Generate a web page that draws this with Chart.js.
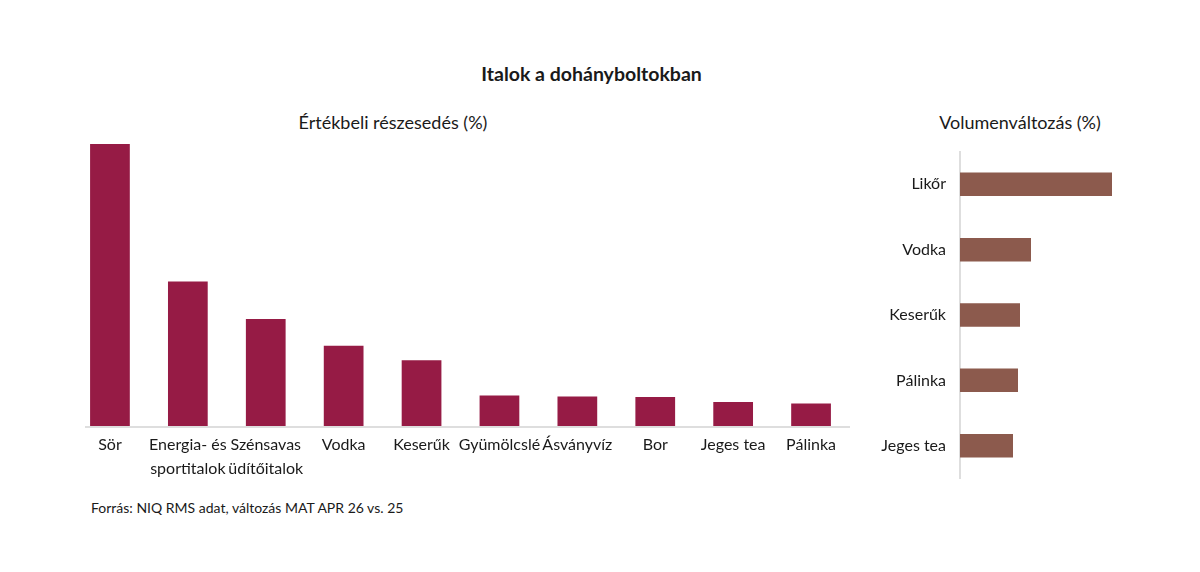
<!DOCTYPE html>
<html>
<head>
<meta charset="utf-8">
<script src="https://cdn.jsdelivr.net/npm/chart.js@4/dist/chart.umd.min.js"></script>
<style>
  html, body { margin: 0; padding: 0; background: #fff; }
  body { width: 1200px; height: 572px; position: relative; overflow: hidden; font-family: Lato, sans-serif; color: #1a1a1a; }
  .txt { position: absolute; white-space: nowrap; }
  #title { left: 0; width: 1183px; top: 62px; text-align: center; font-weight: bold; font-size: 19.5px; }
  #subLeft { left: 243px; width: 300px; top: 111px; text-align: center; font-size: 18px; }
  #subRight { left: 920px; width: 200px; top: 111px; text-align: center; font-size: 18px; }
  #source { left: 91px; top: 499px; font-size: 14px; }
  #wrapLeft { position: absolute; left: 71px; top: 144px; width: 779px; height: 352px; }
  #wrapRight { position: absolute; left: 860px; top: 128px; width: 340px; height: 374px; }
</style>
</head>
<body>
<div class="txt" id="title">Italok a dohányboltokban</div>
<div class="txt" id="subLeft">Értékbeli részesedés (%)</div>
<div class="txt" id="subRight">Volumenváltozás (%)</div>
<div class="txt" id="source">Forrás: NIQ RMS adat, változás MAT APR 26 vs. 25</div>
<div id="wrapLeft"><canvas id="chart-share"></canvas></div>
<div id="wrapRight"><canvas id="chart-volume"></canvas></div>
<script>
// value share categories (left)
const shareLabels = ['Sör', ['Energia- és', 'sportitalok'], ['Szénsavas', 'üdítőitalok'], 'Vodka', 'Keserűk',
  'Gyümölcslé', 'Ásványvíz', 'Bor', 'Jeges tea', 'Pálinka'];
const shareValues = [28.1, 14.4, 10.65, 8.0, 6.55, 3.05, 2.95, 2.9, 2.4, 2.25];

// volume change categories (right)
const volumeLabels = ['Likőr', 'Vodka', 'Keserűk', 'Pálinka', 'Jeges tea'];
const volumeValues = [15.2, 7.1, 6.0, 5.8, 5.3];

const SHARE_COLOR = '#961B45';
const VOLUME_COLOR = '#8C5A4D';
const AXIS_COLOR = '#dedede';
const LABEL_COLOR = '#1a1a1a';

Chart.defaults.font.family = 'Lato, sans-serif';
Chart.defaults.color = LABEL_COLOR;
Chart.defaults.animation = false;

// baseline under the columns, starts a bit right of the first category
const baseLine = {
  id: 'baseLine',
  afterDatasetsDraw(chart) {
    const { ctx, chartArea } = chart;
    ctx.save();
    ctx.strokeStyle = AXIS_COLOR;
    ctx.lineWidth = 2;
    ctx.beginPath();
    ctx.moveTo(chartArea.left + 14, chartArea.bottom + 1);
    ctx.lineTo(chartArea.right, chartArea.bottom + 1);
    ctx.stroke();
    ctx.restore();
  },
};

new Chart(document.getElementById('chart-share'), {
  type: 'bar',
  data: {
    labels: shareLabels,
    datasets: [{ data: shareValues, backgroundColor: SHARE_COLOR, categoryPercentage: 1, barPercentage: 0.51 }],
  },
  options: {
    responsive: true,
    maintainAspectRatio: false,
    layout: { padding: 0 },
    scales: {
      x: {
        grid: { display: false, drawTicks: false },
        border: { display: false },
        ticks: { font: { size: 16, lineHeight: 1.5 }, padding: 7, maxRotation: 0, autoSkip: false, color: LABEL_COLOR },
        afterFit: (axis) => { axis.height = 70; },
      },
      y: { display: false, min: 0, max: 28.1 },
    },
    plugins: { legend: { display: false }, tooltip: { enabled: false } },
  },
  plugins: [baseLine],
});

new Chart(document.getElementById('chart-volume'), {
  type: 'bar',
  data: {
    labels: volumeLabels,
    datasets: [{ data: volumeValues, backgroundColor: VOLUME_COLOR, categoryPercentage: 1, barPercentage: 0.36 }],
  },
  options: {
    indexAxis: 'y',
    responsive: true,
    maintainAspectRatio: false,
    layout: { padding: 0 },
    scales: {
      x: { display: false, min: 0, max: 24 },
      y: {
        grid: { display: false, drawTicks: false },
        border: { color: AXIS_COLOR, width: 2 },
        ticks: { font: { size: 16 }, padding: 14, color: LABEL_COLOR },
        afterFit: (axis) => { axis.width = 100; },
      },
    },
    plugins: { legend: { display: false }, tooltip: { enabled: false } },
  },
});
</script>
</body>
</html>
